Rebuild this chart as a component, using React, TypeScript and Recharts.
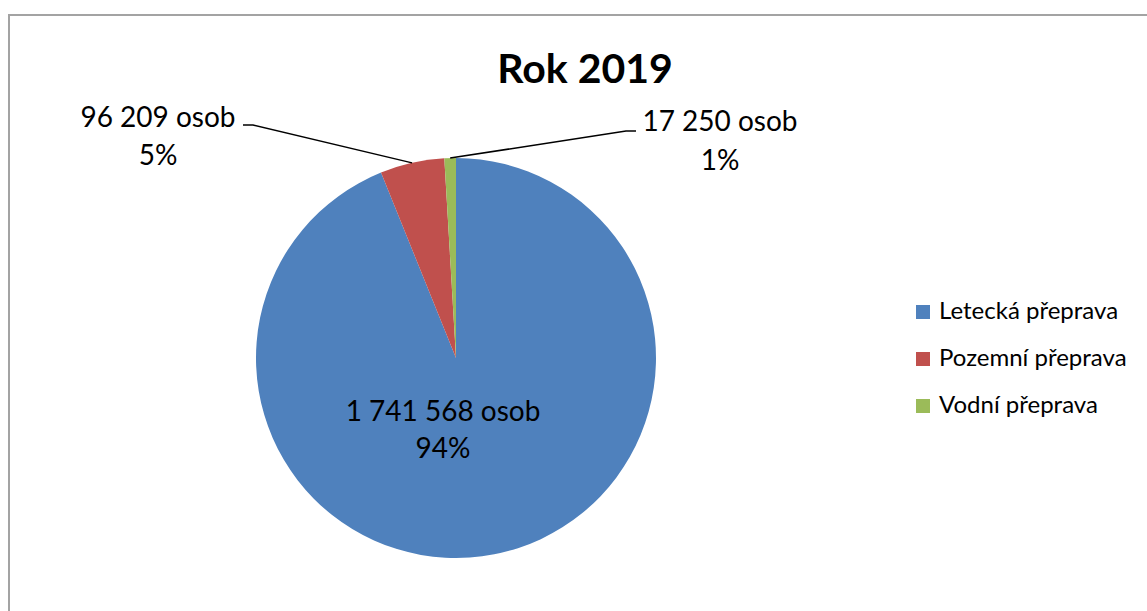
import { Cell, Legend, Pie, PieChart } from "recharts";

const CATEGORIES = ["Letecká přeprava", "Pozemní přeprava", "Vodní přeprava"];
const PASSENGERS = [1741568, 96209, 17250];
const PERCENT_LABELS = ["94%", "5%", "1%"];
const COLORS = ["#4F81BD", "#C0504D", "#9BBB59"];
const TITLE = "Rok 2019";

const FONT = "Lato, 'Open Sans', sans-serif";
const RADIAN = Math.PI / 180;

const data = CATEGORIES.map((name, i) => ({ name, value: PASSENGERS[i] }));

const fmt = (v: number) => String(v).replace(/\B(?=(\d{3})+(?!\d))/g, " ");

// hand placed label boxes, relative to the pie centre
const LABEL_POS = [
  { x: -13, y1: 63, y2: 100, elbow: null as null | number[] },
  { x: -298, y1: -231, y2: -193, elbow: [-203, -233, -213] },
  { x: 264, y1: -227, y2: -188, elbow: [170, -227, 180] },
];

function renderLabel(props: any) {
  const { cx, cy, midAngle, outerRadius, index, value } = props;
  const pos = LABEL_POS[index];
  const ex = cx + outerRadius * Math.cos(-midAngle * RADIAN);
  const ey = cy + outerRadius * Math.sin(-midAngle * RADIAN);
  return (
    <g key={`lbl-${index}`}>
      {pos.elbow && (
        <polyline
          points={`${ex},${ey} ${cx + pos.elbow[0]},${cy + pos.elbow[1]} ${cx + pos.elbow[2]},${cy + pos.elbow[1]}`}
          fill="none"
          stroke="#000"
          strokeWidth={1.5}
        />
      )}
      <text x={cx + pos.x} y={cy + pos.y1} textAnchor="middle" fontFamily={FONT} fontSize={28} fill="#000">
        {`${fmt(value)} osob`}
      </text>
      <text x={cx + pos.x} y={cy + pos.y2} textAnchor="middle" fontFamily={FONT} fontSize={28} fill="#000">
        {PERCENT_LABELS[index]}
      </text>
    </g>
  );
}

function LegendContent({ payload }: any) {
  return (
    <div style={{ fontFamily: FONT, fontSize: 24, color: "#000" }}>
      {(payload || []).map((p: any) => (
        <div key={p.value} style={{ position: "relative", height: 47, lineHeight: "47px", paddingLeft: 23, whiteSpace: "nowrap" }}>
          <span
            style={{ position: "absolute", left: 0, top: 19, width: 14, height: 14, background: p.color }}
          />
          {p.value}
        </div>
      ))}
    </div>
  );
}

export default function App() {
  return (
    <div style={{ position: "fixed", left: 0, top: 0, width: 1147, height: 611, overflow: "hidden", background: "#fff" }}>
      <div
        style={{
          position: "absolute",
          left: 8,
          top: 14,
          width: 1300,
          height: 800,
          border: "2px solid #a3a3a3",
        }}
      />
      <div
        style={{
          position: "absolute",
          left: 0,
          width: 1170,
          top: 47,
          textAlign: "center",
          fontFamily: FONT,
          fontWeight: 700,
          fontSize: 41,
          lineHeight: "41px",
          color: "#000",
        }}
      >
        {TITLE}
      </div>
      <div style={{ position: "absolute", left: 0, top: 0 }}>
        <PieChart width={1147} height={611} margin={{ top: 0, right: 0, bottom: 0, left: 0 }}>
          <Pie
            data={data}
            dataKey="value"
            nameKey="name"
            cx={456}
            cy={358}
            outerRadius={200}
            startAngle={90}
            endAngle={-270}
            stroke="none"
            label={renderLabel}
            labelLine={false}
            isAnimationActive={false}
          >
            {data.map((d, i) => (
              <Cell key={d.name} fill={COLORS[i]} />
            ))}
          </Pie>
          <Legend
            layout="vertical"
            verticalAlign="top"
            align="right"
            content={<LegendContent />}
            wrapperStyle={{ left: 916, top: 286, right: "auto", width: 230 }}
          />
        </PieChart>
      </div>
    </div>
  );
}
